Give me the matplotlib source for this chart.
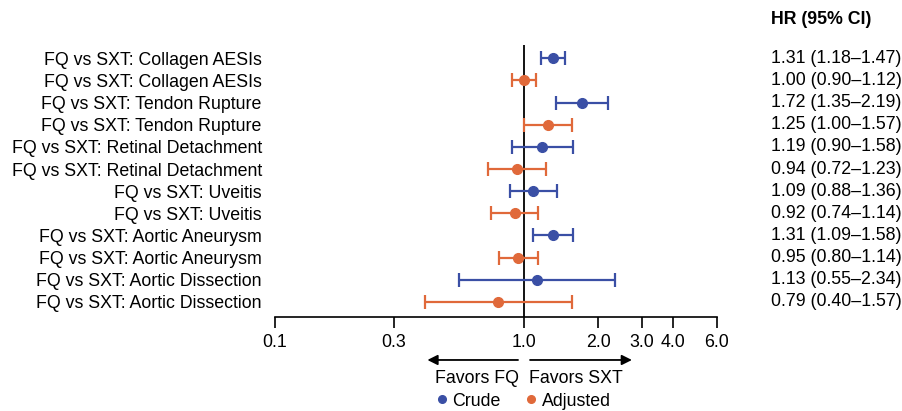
import numpy as np
import matplotlib.pyplot as plt
from matplotlib.lines import Line2D

plt.rcParams['font.family'] = ['Liberation Sans', 'DejaVu Sans']

# 数据：每个结局的粗/校正 HR 与 95% CI
outcomes = ["Collagen AESIs", "Tendon Rupture", "Retinal Detachment",
            "Uveitis", "Aortic Aneurysm", "Aortic Dissection"]
crude_hr = [1.31, 1.72, 1.19, 1.09, 1.31, 1.13]
crude_lo = [1.18, 1.35, 0.90, 0.88, 1.09, 0.55]
crude_hi = [1.47, 2.19, 1.58, 1.36, 1.58, 2.34]
adj_hr = [1.00, 1.25, 0.94, 0.92, 0.95, 0.79]
adj_lo = [0.90, 1.00, 0.72, 0.74, 0.80, 0.40]
adj_hi = [1.12, 1.57, 1.23, 1.14, 1.14, 1.57]
xticks = [0.1, 0.3, 1.0, 2.0, 3.0, 4.0, 6.0]

BLUE = "#3a4fa5"
ORANGE = "#e0693a"
FS = 12.8

fig = plt.figure(figsize=(9.03, 4.11), dpi=100)
ax = fig.add_axes([0.3045, 0.2287, 0.4895, 0.6618])

n = len(outcomes)
labels = []
for i in range(n):
    y_c = 2 * (n - i) - 1
    y_a = y_c - 1
    for y, hr, lo, hi, col in [(y_c, crude_hr[i], crude_lo[i], crude_hi[i], BLUE),
                               (y_a, adj_hr[i], adj_lo[i], adj_hi[i], ORANGE)]:
        ax.errorbar(hr, y, xerr=[[hr - lo], [hi - hr]], fmt='o', color=col,
                    ms=7, elinewidth=1.6, capsize=4.7, capthick=1.6, zorder=3)
        ax.text(1.122, y, f"{hr:.2f} ({lo:.2f}\u2013{hi:.2f})", transform=ax.get_yaxis_transform(),
                ha='left', va='center', fontsize=FS)
    labels += [f"FQ vs SXT: {outcomes[i]}"] * 2

ax.axvline(1.0, color='black', lw=1.3, zorder=2)
ax.set_xscale('log')
ax.set_xlim(0.1, 6.0)
ax.set_ylim(-0.68, 2 * n - 1 + 0.6)
ax.set_xticks(xticks)
ax.set_xticklabels([f"{t:.1f}" for t in xticks], fontsize=FS)
ax.xaxis.set_minor_locator(plt.NullLocator())
ax.set_yticks(np.arange(2 * n - 1, -1, -1))
ax.set_yticklabels(labels, fontsize=FS)
ax.tick_params(axis='y', length=0, pad=9.5)
ax.tick_params(axis='x', length=8, width=1.2, direction='out', pad=4)
for s in ['top', 'right', 'left']:
    ax.spines[s].set_visible(False)
ax.spines['bottom'].set_linewidth(1.2)

ax.text(1.122, 1.093, "HR (95% CI)", transform=ax.transAxes, ha='left', va='center',
        fontsize=FS, fontweight='bold')

# 方向箭头
tr = ax.get_xaxis_transform()
ax.annotate("", xy=(0.40, -0.158), xytext=(0.975, -0.158), xycoords=tr, textcoords=tr,
            arrowprops=dict(arrowstyle='-|>', color='black', lw=1.3, mutation_scale=15),
            annotation_clip=False)
ax.annotate("", xy=(2.8, -0.158), xytext=(1.035, -0.158), xycoords=tr, textcoords=tr,
            arrowprops=dict(arrowstyle='-|>', color='black', lw=1.3, mutation_scale=15),
            annotation_clip=False)
ax.text(0.955, -0.225, "Favors FQ", transform=tr, ha='right', va='center', fontsize=FS)
ax.text(1.055, -0.225, "Favors SXT", transform=tr, ha='left', va='center', fontsize=FS)

handles = [Line2D([], [], marker='o', ls='', color=BLUE, ms=5.5, label='Crude'),
           Line2D([], [], marker='o', ls='', color=ORANGE, ms=5.5, label='Adjusted')]
fig.legend(handles=handles, loc='center', bbox_to_anchor=(0.578, 0.024), ncol=2,
           frameon=False, fontsize=FS, handletextpad=0.1, columnspacing=1.2,
           handlelength=1.0)

fig.savefig("out.png", dpi=100)
